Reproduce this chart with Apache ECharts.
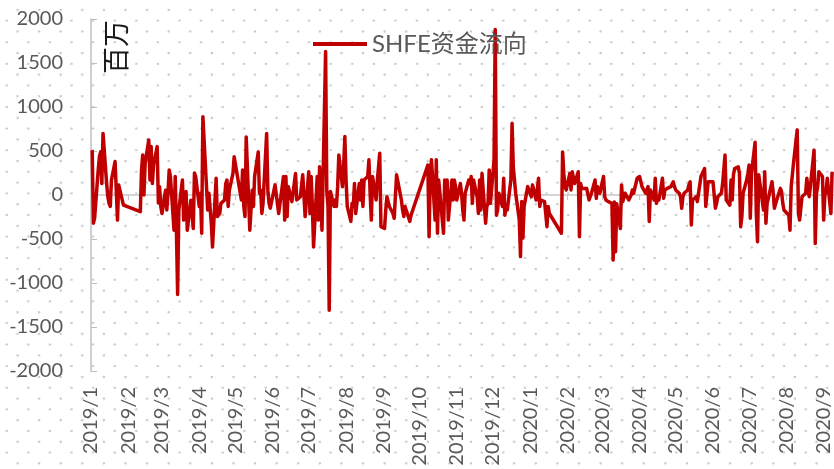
<!DOCTYPE html>
<html>
<head>
<meta charset="utf-8">
<script src="https://cdn.jsdelivr.net/npm/echarts@6/dist/echarts.min.js"></script>
<style>
html, body { margin: 0; padding: 0; background: #fff; }
#chart {
  width: 834px; height: 469px;
  background-color: #fff;
  background-image:
    radial-gradient(circle at 6.7px 20.7px, #c9c9c9 0, #c9c9c9 0.9px, rgba(201,201,201,0) 1.6px),
    radial-gradient(circle at 17.5px 9.9px, #c9c9c9 0, #c9c9c9 0.9px, rgba(201,201,201,0) 1.6px);
  background-size: 21.6px 21.6px;
}
</style>
</head>
<body>
<div id="chart"></div>
<script>
// SHFE net fund flow, millions (百万). Each month: [day, value].
const m2019_01 = [[2,510],[3,-320],[4,-265],[7,285],[8,435],[9,490],[10,130],[11,700],[14,130],[15,-20],[16,-95],[17,-130],[18,170],[21,380],[22,55],[23,-285],[24,115],[25,55],[28,-115]];
const m2019_02 = [[11,-190],[12,285],[13,455],[14,0],[15,360],[18,625],[19,170],[20,550],[21,130],[22,340],[25,550],[26,-90],[27,95],[28,-130]];
const m2019_03 = [[1,-210],[4,55],[5,-170],[6,20],[7,285],[8,210],[11,-400],[12,210],[13,-400],[14,-1130],[15,-170],[18,170],[19,-285],[20,-300],[21,40],[22,-400],[25,-60],[26,-40],[27,-380],[28,250],[29,210]];
const m2019_04 = [[1,-130],[2,20],[3,-435],[4,890],[8,-170],[9,20],[11,-320],[12,-590],[15,190],[16,-245],[17,-225],[18,-210],[19,-95],[22,-57],[23,130],[24,170],[25,-130],[26,55],[29,245],[30,435]];
const m2019_05 = [[6,-57],[7,285],[8,-130],[9,-245],[10,660],[13,-400],[14,-170],[15,55],[16,-130],[17,210],[20,490],[21,20],[22,55],[23,-210],[24,-95],[27,700],[28,55],[29,-95],[30,-150],[31,-150]];
const m2019_06 = [[3,115],[4,130],[6,-210],[10,210],[11,-285],[12,210],[13,-245],[14,95],[17,-75],[18,-57],[20,245],[21,-57],[24,-20],[26,230],[28,-245]];
const m2019_07 = [[1,265],[2,-210],[3,210],[4,-130],[5,-590],[8,210],[9,-285],[10,320],[12,-400],[15,1630],[16,40],[17,-130],[18,-1310],[19,40],[22,-130],[23,-57],[24,-130],[25,95],[26,455],[29,95],[30,330],[31,665]];
const m2019_08 = [[1,170],[2,-130],[5,-300],[6,-95],[7,-130],[8,130],[9,-210],[12,130],[13,-57],[14,170],[15,-130],[16,170],[19,210],[20,400],[21,20],[22,-285],[23,210],[26,-57],[27,170],[28,320],[29,475],[30,-360]];
const m2019_09 = [[2,-380],[3,-170],[4,-20],[5,-75],[6,-130],[9,-210],[10,-265],[11,-245],[12,230],[16,-57],[17,-170],[18,-245],[19,-130],[20,-150],[23,-300],[24,-230]];
const m2019_10 = [[8,340],[9,-475],[10,210],[11,400],[14,-285],[15,400],[16,-435],[17,170],[18,20],[21,-435],[22,170],[23,-57],[24,170],[25,-285],[28,170],[29,-57],[30,170],[31,95]];
const m2019_11 = [[1,-57],[4,130],[5,20],[6,-170],[7,-285],[8,20],[11,170],[12,130],[13,210],[14,-95],[15,170],[18,-20],[19,-210],[20,170],[21,-170],[22,245],[25,-320],[26,-130],[27,-95],[28,285],[29,-95]];
const m2019_12 = [[2,400],[3,1880],[4,-230],[5,-170],[6,20],[9,-130],[10,190],[11,-230],[12,-130],[13,-170],[16,170],[17,815],[18,320],[19,340],[20,20],[23,-285],[24,-700],[25,-75],[26,-490],[27,-130],[30,95],[31,115]];
const m2020_01 = [[2,-20],[3,115],[6,-57],[7,-75],[8,190],[9,-130],[10,-57],[13,-75],[14,-57],[15,-360],[16,-130],[17,-210],[27,-435],[28,490],[29,245],[30,95],[31,57]];
const m2020_02 = [[3,245],[4,57],[5,265],[6,190],[7,130],[10,265],[11,-475],[12,130],[13,75],[14,75],[17,75],[18,57],[19,-57],[20,-75],[21,20],[24,170],[25,-38],[26,95],[27,75],[28,20]];
const m2020_03 = [[2,210],[3,-20],[4,-57],[5,-75],[6,-75],[9,-95],[10,-740],[11,-80],[12,-645],[13,-100],[16,-380],[17,115],[18,-75],[19,-57],[20,20],[23,-57],[24,-57],[25,0],[26,57],[27,20],[30,190],[31,170]];
const m2020_04 = [[1,210],[2,190],[3,95],[6,20],[7,57],[8,95],[9,-300],[10,57],[13,-57],[14,190],[15,-95],[16,-19],[17,-57],[20,190],[21,-38],[22,57],[23,75],[24,75],[27,95],[28,115],[29,150],[30,95]];
const m2020_05 = [[1,57],[4,19],[5,-19],[6,-150],[7,-19],[8,19],[11,57],[12,115],[13,150],[14,-340],[15,-57],[18,-19],[19,-75],[20,19],[21,38],[22,210],[25,300],[26,-130],[27,-130],[28,150],[29,150]];
const m2020_06 = [[1,150],[2,130],[3,-150],[4,-95],[5,-19],[8,19],[9,130],[10,150],[11,455],[12,-57],[15,-115],[16,170],[17,-57],[18,230],[19,300],[22,320],[23,245],[24,-360],[25,-245],[26,19],[29,170],[30,245]];
const m2020_07 = [[1,340],[2,-265],[3,245],[6,600],[7,-210],[8,-530],[9,230],[10,210],[13,-170],[14,265],[15,-320],[16,-95],[17,-38],[20,150],[21,38],[22,-150],[23,-130],[24,-57],[27,75],[28,38],[29,-95],[30,-170],[31,-170]];
const m2020_08 = [[3,-230],[4,-400],[5,95],[6,115],[7,370],[10,740],[11,-210],[12,-285],[13,-300],[14,-19],[17,19],[18,190],[19,57],[20,-19],[21,100],[24,510],[25,-550],[26,19],[27,95],[28,265],[31,210]];
const m2020_09 = [[1,-285],[2,0],[3,38],[4,190],[7,-210],[8,265]];

const monthTables = [
  ['2019-01', m2019_01], ['2019-02', m2019_02], ['2019-03', m2019_03], ['2019-04', m2019_04],
  ['2019-05', m2019_05], ['2019-06', m2019_06], ['2019-07', m2019_07], ['2019-08', m2019_08],
  ['2019-09', m2019_09], ['2019-10', m2019_10], ['2019-11', m2019_11], ['2019-12', m2019_12],
  ['2020-01', m2020_01], ['2020-02', m2020_02], ['2020-03', m2020_03], ['2020-04', m2020_04],
  ['2020-05', m2020_05], ['2020-06', m2020_06], ['2020-07', m2020_07], ['2020-08', m2020_08],
  ['2020-09', m2020_09]
];

const seriesName = 'SHFE资金流向';
const unitLabel = '百万';
const yTicks = [-2000, -1500, -1000, -500, 0, 500, 1000, 1500, 2000];

const flowData = [];
monthTables.forEach(([ym, rows]) => {
  rows.forEach(([d, v]) => flowData.push([ym + '-' + String(d).padStart(2, '0'), v]));
});

const axisStart = new Date(2019, 0, 1).getTime();
const axisEnd = new Date(2020, 8, 9, 14).getTime();

function monthLabel(value) {
  const d = new Date(value);
  if (d.getDate() !== 1 || d.getHours() !== 0) return '';
  return d.getFullYear() + '/' + (d.getMonth() + 1);
}

const chart = echarts.init(document.getElementById('chart'), null, { renderer: 'canvas' });
chart.setOption({
  backgroundColor: 'transparent',
  animation: false,
  textStyle: { fontFamily: 'Lato, "Noto Sans CJK SC", sans-serif' },
  grid: { left: 91, right: 0, top: 19, bottom: 98, containLabel: false },
  legend: {
    data: [seriesName],
    left: 308, top: 27,
    icon: 'rect', itemWidth: 54, itemHeight: 4, itemGap: 10,
    textStyle: { fontSize: 24, color: '#595959', fontFamily: 'Lato, "Noto Sans CJK SC", sans-serif' }
  },
  xAxis: [
    {
      type: 'time', position: 'bottom', min: axisStart, max: axisEnd, splitNumber: 20,
      axisLine: { show: false, onZero: false },
      axisTick: { show: false },
      splitLine: { show: false },
      axisLabel: {
        rotate: 90, margin: 16, fontSize: 20, color: '#595959',
        fontFamily: 'Lato, sans-serif', formatter: monthLabel,
        showMinLabel: true, showMaxLabel: true
      }
    },
    {
      type: 'time', position: 'top', min: axisStart, max: axisEnd, splitNumber: 20,
      axisLine: { show: true, onZero: true, lineStyle: { color: '#c8c8c8', width: 1.5 } },
      axisTick: { show: true, inside: true, length: 5, lineStyle: { color: '#c8c8c8' } },
      axisLabel: { show: false },
      splitLine: { show: false }
    }
  ],
  yAxis: {
    type: 'value', min: yTicks[0], max: yTicks[yTicks.length - 1], interval: 500,
    axisLine: { show: true, lineStyle: { color: '#bfbfbf', width: 1.5 } },
    axisTick: { show: true, inside: true, length: 6, lineStyle: { color: '#bfbfbf' } },
    splitLine: { show: false },
    axisLabel: {
      fontSize: 20, color: '#595959', margin: 28, fontFamily: 'Lato, sans-serif',
      formatter: (v) => String(v)
    }
  },
  graphic: [{
    type: 'text', x: 116, y: 47, rotation: Math.PI / 2, z: 10,
    style: {
      text: unitLabel,
      fontSize: 27,
      fontFamily: '"Noto Sans CJK SC", sans-serif',
      fill: '#1a1a1a',
      textAlign: 'center', textVerticalAlign: 'middle'
    }
  }],
  series: [{
    name: seriesName, type: 'line', xAxisIndex: 0, yAxisIndex: 0,
    data: flowData, symbol: 'none', smooth: false,
    lineStyle: { color: '#C00000', width: 3.5, join: 'round' },
    itemStyle: { color: '#C00000' }
  }]
});
</script>
</body>
</html>
